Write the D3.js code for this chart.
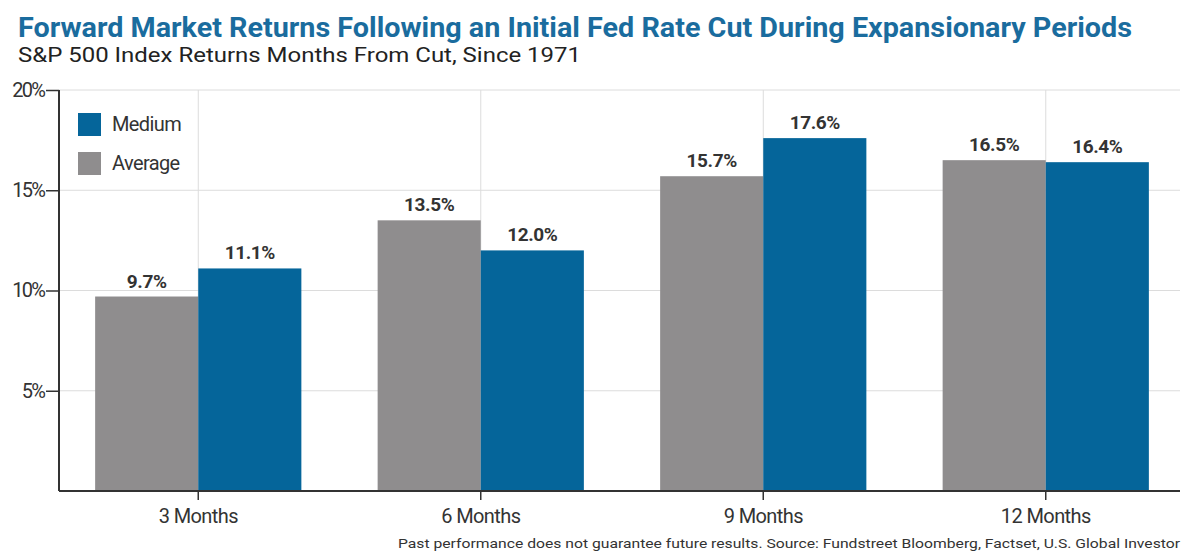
<!doctype html>
<html>
<head>
<meta charset="utf-8">
<script src="https://d3js.org/d3.v7.min.js"></script>
<style>
  body { margin: 0; background: #fff; }
  svg { display: block; font-family: Roboto, "Liberation Sans", sans-serif; }
</style>
</head>
<body>
<svg width="1183" height="552"></svg>
<script>
// chart data
var categories = ["3 Months", "6 Months", "9 Months", "12 Months"];
var seriesNames = ["Average", "Medium"];
var averageVals = [9.7, 13.5, 15.7, 16.5];
var mediumVals = [11.1, 12.0, 17.6, 16.4];
var yTicks = [5, 10, 15, 20];

var colors = { Average: "#8f8d8e", Medium: "#05659a" };

var svg = d3.select("svg");
var plotL = 59, plotR = 1180, plotT = 90, plotB = 491;

var x = d3.scaleBand().domain(categories).range([57, 1187])
  .paddingInner(0.27).paddingOuter(0.135);
var xs = d3.scaleBand().domain(seriesNames).range([0, x.bandwidth()]);
var y = d3.scaleLinear().domain([0, 20]).range([plotB, plotT]);

// title + subtitle
svg.append("text")
  .attr("x", 18).attr("y", 37)
  .attr("font-size", 27).attr("font-weight", 700)
  .attr("fill", "#1a6c9e")
  .attr("textLength", 1114).attr("lengthAdjust", "spacingAndGlyphs")
  .text("Forward Market Returns Following an Initial Fed Rate Cut During Expansionary Periods");

svg.append("text")
  .attr("x", 18).attr("y", 62)
  .attr("font-size", 21).attr("fill", "#222")
  .attr("textLength", 563).attr("lengthAdjust", "spacingAndGlyphs")
  .text("S&P 500 Index Returns Months From Cut, Since 1971");

// gridlines
svg.append("g").selectAll("line").data(yTicks).enter().append("line")
  .attr("x1", plotL).attr("x2", plotR)
  .attr("y1", function(d) { return y(d); }).attr("y2", function(d) { return y(d); })
  .attr("stroke", "#dcdcdc").attr("stroke-width", 1);

svg.append("g").selectAll("line").data(categories).enter().append("line")
  .attr("x1", function(d) { return x(d) + x.bandwidth() / 2; })
  .attr("x2", function(d) { return x(d) + x.bandwidth() / 2; })
  .attr("y1", plotT).attr("y2", plotB)
  .attr("stroke", "#dcdcdc").attr("stroke-width", 1);

// bars
var rows = categories.map(function(c, i) {
  return { cat: c, vals: [
    { key: "Average", v: averageVals[i] },
    { key: "Medium", v: mediumVals[i] }
  ] };
});

var grp = svg.append("g").selectAll("g").data(rows).enter().append("g")
  .attr("transform", function(d) { return "translate(" + x(d.cat) + ",0)"; });

grp.selectAll("rect").data(function(d) { return d.vals; }).enter().append("rect")
  .attr("x", function(d) { return xs(d.key); })
  .attr("y", function(d) { return y(d.v); })
  .attr("width", xs.bandwidth())
  .attr("height", function(d) { return plotB - y(d.v); })
  .attr("fill", function(d) { return colors[d.key]; });

grp.selectAll("text").data(function(d) { return d.vals; }).enter().append("text")
  .attr("x", function(d) { return xs(d.key) + xs.bandwidth() / 2; })
  .attr("y", function(d) { return y(d.v) - 9; })
  .attr("text-anchor", "middle")
  .attr("font-size", 19).attr("font-weight", 700).attr("fill", "#333")
  .attr("letter-spacing", -0.4)
  .text(function(d) { return d.v.toFixed(1) + "%"; });

// axes
var yAxis = svg.append("g")
  .attr("transform", "translate(" + plotL + ",0)")
  .call(d3.axisLeft(y).tickValues(yTicks).tickSize(13).tickPadding(2)
    .tickFormat(function(d) { return d + "%"; }));
yAxis.select(".domain").attr("d", "M0," + plotT + "V" + plotB).attr("stroke", "#333").attr("stroke-width", 2);
yAxis.selectAll(".tick line").attr("stroke", "#333").attr("stroke-width", 1.5);
yAxis.selectAll(".tick text").attr("font-size", 20).attr("fill", "#333")
  .attr("font-family", "Roboto, sans-serif").attr("letter-spacing", -1.8);

var xAxis = svg.append("g")
  .attr("transform", "translate(0," + plotB + ")")
  .call(d3.axisBottom(x).tickSize(9).tickPadding(9));
xAxis.select(".domain").attr("d", "M" + plotL + ",0H" + plotR).attr("stroke", "#333").attr("stroke-width", 2);
xAxis.selectAll(".tick line").attr("stroke", "#333").attr("stroke-width", 1.5);
xAxis.selectAll(".tick text").attr("font-size", 20).attr("fill", "#333")
  .attr("font-family", "Roboto, sans-serif").attr("letter-spacing", -0.6);

// legend
var legend = svg.append("g").attr("transform", "translate(78,113)");
["Medium", "Average"].forEach(function(k, i) {
  legend.append("rect").attr("x", 0).attr("y", i * 39)
    .attr("width", 23).attr("height", 23).attr("fill", colors[k]);
  legend.append("text").attr("x", 34).attr("y", i * 39 + 18)
    .attr("font-size", 20).attr("fill", "#333").attr("letter-spacing", -0.6)
    .text(k);
});

// footnote
svg.append("text")
  .attr("x", 1180).attr("y", 548).attr("text-anchor", "end")
  .attr("font-size", 13).attr("fill", "#333")
  .attr("textLength", 782).attr("lengthAdjust", "spacingAndGlyphs")
  .text("Past performance does not guarantee future results. Source: Fundstreet Bloomberg, Factset, U.S. Global Investor");
</script>
</body>
</html>
